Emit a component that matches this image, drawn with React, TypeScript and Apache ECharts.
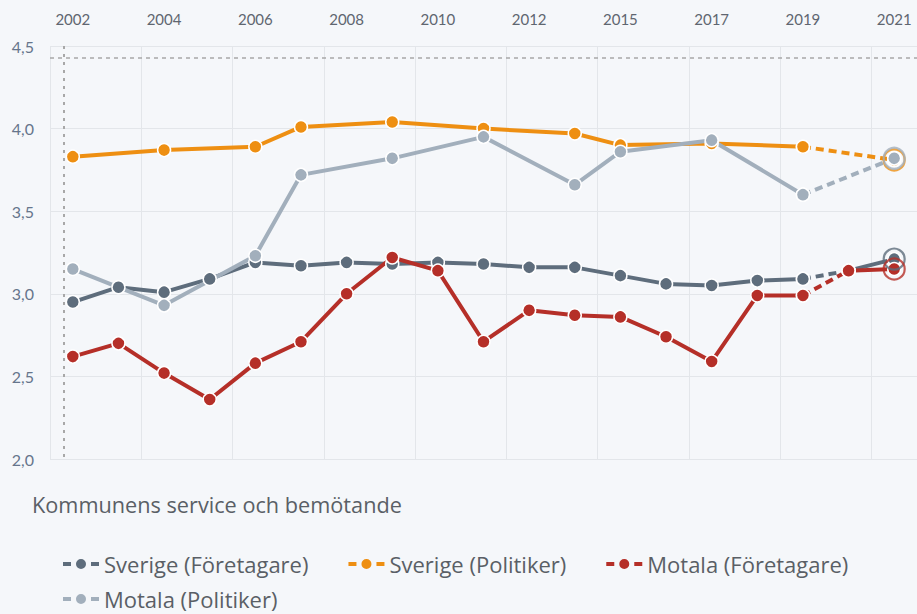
import React, { useEffect, useRef } from "react";
import * as echarts from "echarts";

const years = ["2002","2003","2004","2005","2006","2007","2008","2009","2010","2011","2012","2013","2015","2016","2017","2018","2019","2020","2021"];
const tickLabels = ["2,0","2,5","3,0","3,5","4,0","4,5"];

const sverigeForetagare = [2.95,3.04,3.01,3.09,3.19,3.17,3.19,3.18,3.19,3.18,3.16,3.16,3.11,3.06,3.05,3.08,3.09,3.14,3.21];
const sverigePolitiker = [3.83,null,3.87,null,3.89,4.01,null,4.04,null,4.0,null,3.97,3.9,null,3.91,null,3.89,null,3.81];
const motalaForetagare = [2.62,2.7,2.52,2.36,2.58,2.71,3.0,3.22,3.14,2.71,2.9,2.87,2.86,2.74,2.59,2.99,2.99,3.14,3.15];
const motalaPolitiker = [3.15,null,2.93,null,3.23,3.72,null,3.82,null,3.95,null,3.66,3.86,null,3.93,null,3.6,null,3.82];

const seriesNames = ["Sverige (Företagare)", "Sverige (Politiker)", "Motala (Företagare)", "Motala (Politiker)"];
const seriesColors = ["#5e6d7c", "#ee8f12", "#b52f28", "#a2afbc"];
const seriesValues = [sverigeForetagare, sverigePolitiker, motalaForetagare, motalaPolitiker];
// dashed segment [from index, to index]
const dashedSegments = [[16, 17], [16, 18], [16, 17], [16, 18]];

const BG = "#f5f7fa";

function buildSeries(name: string, color: string, values: (number | null)[], seg: number[]) {
  const [a, b] = seg;
  const solidA = values.map((v, i) => (i <= a ? v : null));
  const dashed = values.map((v, i) => (i === a || i === b ? v : null));
  const solidB = values.map((v, i) => (i >= b ? v : null));
  const last = values.length - 1;
  const base = {
    name,
    type: "line",
    connectNulls: true,
    symbol: "circle",
    symbolSize: 13,
    showAllSymbol: true,
    itemStyle: { color, borderColor: "#ffffff", borderWidth: 1.5 },
    emphasis: { disabled: true },
    silent: true,
  };
  return [
    { ...base, data: solidA, lineStyle: { color, width: 4 } },
    { ...base, data: dashed, lineStyle: { color, width: 4, type: [8, 5] } },
    {
      ...base,
      data: solidB,
      lineStyle: { color, width: 4 },
      markPoint: {
        silent: true,
        symbol: "circle",
        symbolSize: 21,
        label: { show: false },
        itemStyle: { color: "rgba(0,0,0,0)", borderColor: color, borderWidth: 2.2, opacity: 0.8 },
        data: [{ coord: [years[last], values[last]] }],
      },
    },
  ];
}

export default function App() {
  const ref = useRef<HTMLDivElement>(null);
  useEffect(() => {
    document.body.style.margin = "0";
    document.body.style.background = BG;
    const chart = echarts.init(ref.current!, null, { renderer: "svg" });
    const series: any[] = [];
    seriesNames.forEach((n, i) => {
      series.push(...buildSeries(n, seriesColors[i], seriesValues[i], dashedSegments[i]));
    });
    const font = "Lato, 'Noto Sans', sans-serif";
    const textFont = "'Open Sans', Lato, sans-serif";
    const legendIcon = "path://M0,4h8v4h-8z M13,6a5,5 0 1,0 10,0a5,5 0 1,0 -10,0z M28,4h8v4h-8z";
    const legendBase = {
      left: 58,
      icon: legendIcon,
      itemWidth: 36,
      itemHeight: 12,
      itemGap: 40,
      selectedMode: false,
      itemStyle: { borderWidth: 0 },
      textStyle: { fontSize: 22, color: "#5a5f66", fontFamily: textFont },
    };
    chart.setOption({
      animation: false,
      backgroundColor: BG,
      textStyle: { fontFamily: font },
      title: {
        text: "Kommunens service och bemötande",
        left: 27,
        top: 488,
        textStyle: { fontSize: 21.7, fontWeight: "normal", color: "#5a5f66", fontFamily: textFont },
      },
      legend: [
        { ...legendBase, top: 548, data: seriesNames.slice(0, 3) },
        { ...legendBase, top: 583, data: seriesNames.slice(3) },
      ],
      grid: { left: 50, right: -3, top: 46, bottom: 155 },
      xAxis: {
        type: "category",
        position: "top",
        data: years,
        boundaryGap: true,
        axisLine: { show: false },
        axisTick: { show: false },
        axisLabel: { interval: 1, color: "#5f6670", fontSize: 15, margin: 20, fontFamily: font },
        splitLine: { show: true, interval: 1, lineStyle: { color: "#e3e6ea", width: 1 } },
      },
      yAxis: {
        type: "value",
        min: 2,
        max: 4.5,
        interval: 0.5,
        axisLine: { show: false },
        axisTick: { show: false },
        axisLabel: {
          color: "#66758c",
          fontSize: 16,
          margin: 16,
          fontFamily: font,
          formatter: (v: number) => tickLabels[Math.round((v - 2) / 0.5)] ?? String(v),
        },
        splitLine: { show: true, lineStyle: { color: "#e3e6ea", width: 1 } },
      },
      graphic: [
        {
          type: "line",
          silent: true,
          shape: { x1: 50, y1: 58, x2: 917, y2: 58 },
          style: { stroke: "#a8a8a8", lineWidth: 1.5, lineDash: [4, 4] },
          z: 1,
        },
        {
          type: "line",
          silent: true,
          shape: { x1: 64, y1: 46, x2: 64, y2: 459 },
          style: { stroke: "#a8a8a8", lineWidth: 2, lineDash: [3, 5] },
          z: 1,
        },
      ],
      series,
    });
    return () => chart.dispose();
  }, []);
  return (
    <div
      ref={ref}
      style={{ position: "fixed", left: 0, top: 0, width: 917, height: 614, background: BG }}
    />
  );
}
